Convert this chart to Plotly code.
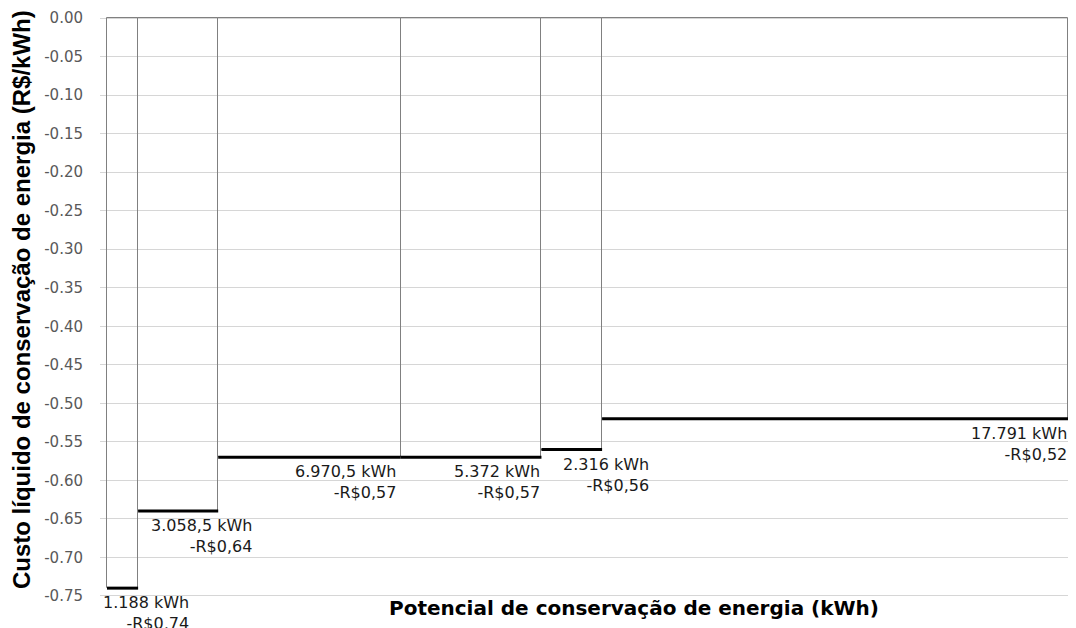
import plotly.graph_objects as go

# Data: energy conservation potential per measure (kWh) and net cost (R$/kWh)
potencial_kwh = [1188, 3058.5, 6970.5, 5372, 2316, 17791]
custo = [-0.74, -0.64, -0.57, -0.57, -0.56, -0.52]
rotulos_kwh = ["1.188 kWh", "3.058,5 kWh", "6.970,5 kWh", "5.372 kWh", "2.316 kWh", "17.791 kWh"]
rotulos_custo = ["-R$0,74", "-R$0,64", "-R$0,57", "-R$0,57", "-R$0,56", "-R$0,52"]
y_ticks = [0.00, -0.05, -0.10, -0.15, -0.20, -0.25, -0.30, -0.35, -0.40, -0.45,
           -0.50, -0.55, -0.60, -0.65, -0.70, -0.75]

# label horizontal nudges (pixels), styling only
label_xshift = [53, 36, -3, 1, 49, 1]

starts = []
acc = 0.0
for w in potencial_kwh:
    starts.append(acc)
    acc += w
total = acc
ends = [s + w for s, w in zip(starts, potencial_kwh)]
mids = [s + w / 2 for s, w in zip(starts, potencial_kwh)]

fig = go.Figure()

# bars (outline only)
fig.add_trace(go.Bar(
    x=mids, y=custo, width=potencial_kwh,
    marker=dict(color="rgba(0,0,0,0)", line=dict(color="#808080", width=1)),
    hoverinfo="skip", showlegend=False,
))

# thick step lines
sx, sy = [], []
for s, e, v in zip(starts, ends, custo):
    sx += [s, e, None]
    sy += [v, v, None]
fig.add_trace(go.Scatter(x=sx, y=sy, mode="lines",
                         line=dict(color="black", width=3),
                         hoverinfo="skip", showlegend=False))

WIDE = "DejaVu Sans, Verdana, sans-serif"
ARIAL = "Liberation Sans, Arial, sans-serif"

for e, v, lk, lc, dx in zip(ends, custo, rotulos_kwh, rotulos_custo, label_xshift):
    fig.add_annotation(x=e, y=v, xref="x", yref="y",
                       text=f"{lk}<br>{lc}", showarrow=False,
                       xanchor="right", yanchor="top", align="right",
                       xshift=dx, yshift=-3,
                       font=dict(family=WIDE, size=16, color="#1a1a1a"))

fig.add_annotation(xref="paper", yref="paper", x=0.549, y=0, yshift=-11,
                   xanchor="center", yanchor="middle",
                   text="<b>Potencial de conservação de energia (kWh)</b>",
                   showarrow=False,
                   font=dict(family=WIDE, size=20, color="black"))
fig.add_annotation(xref="paper", yref="paper", x=0, y=0.512, xshift=-79,
                   xanchor="center", yanchor="middle", textangle=-90,
                   text="<b>Custo líquido de conservação de energia (R$/kWh)</b>",
                   showarrow=False,
                   font=dict(family=ARIAL, size=24, color="black"))

pad_l = 7 * total / 961
pad_r = 5 * total / 961

# the page body adds an 8px offset; figure sized so the plot lands where the reference has it
fig.update_layout(
    width=1068, height=620,
    margin=dict(l=92, r=3, t=9, b=31),
    paper_bgcolor="white", plot_bgcolor="white",
    bargap=0,
    xaxis=dict(range=[-pad_l, total + pad_r], showticklabels=False,
               showgrid=False, zeroline=False, showline=False, ticks="",
               automargin=False),
    yaxis=dict(range=[-0.7515, 0.0015], tickvals=y_ticks,
               ticktext=[f"{t:.2f}" for t in y_ticks],
               showgrid=True, gridcolor="#d6d6d6", gridwidth=1,
               zeroline=False, showline=False, ticks="",
               ticklabelstandoff=16, automargin=False,
               tickfont=dict(family=WIDE, size=15, color="#595959")),
)

fig.write_html("out.html")
